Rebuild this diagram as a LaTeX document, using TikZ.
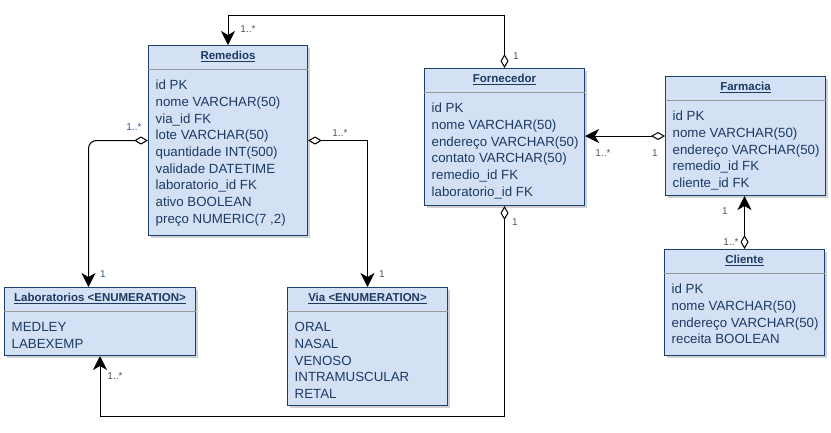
\documentclass[tikz,border=0pt]{standalone}
\usepackage{fontspec}
\setmainfont{Liberation Sans}
\usetikzlibrary{arrows.meta,shadows}
\definecolor{boxfill}{HTML}{D4E1F5}
\definecolor{boxline}{HTML}{1C3F6E}
\definecolor{boxtext}{HTML}{1C3A63}
\definecolor{multgray}{HTML}{555555}
\definecolor{multblue}{HTML}{2D5A9A}

\begin{document}
\begin{tikzpicture}[x=1pt, y=-1pt,
  classbox/.style={draw=boxline, line width=1pt, fill=boxfill, anchor=north west, inner sep=0pt,
    drop shadow={shadow xshift=2pt, shadow yshift=-2pt, fill=black, opacity=0.18}},
  sepline/.style={draw=black!40, line width=1pt},
  titletext/.style={text=boxtext, font=\fontsize{11.5}{13}\selectfont\bfseries, inner sep=0pt},
  rowtext/.style={text=boxtext, font=\fontsize{13.3}{15}\selectfont, anchor=base west, inner sep=0pt},
  assoc/.style={line width=1pt, {Diamond[open,length=14pt,width=8pt]}-{Stealth[length=14pt,width=14pt,inset=4pt]}},
  mult/.style={text=multgray, font=\fontsize{10}{12}\selectfont, inner sep=0pt},
  multb/.style={mult, text=multblue}]
\useasboundingbox (0,0) rectangle (831,432);

% classes
\node[classbox, minimum width=159pt, minimum height=190pt] (rem) at (148,45) {};
\node[classbox, minimum width=160pt, minimum height=137pt] (forn) at (424,68) {};
\node[classbox, minimum width=160pt, minimum height=119pt] (farm) at (665,76) {};
\node[classbox, minimum width=160pt, minimum height=106pt] (cli) at (664,249) {};
\node[classbox, minimum width=191pt, minimum height=68pt] (lab) at (4,287) {};
\node[classbox, minimum width=160pt, minimum height=118pt] (via) at (287,287) {};

% titles and separators
\foreach \c/\t in {rem/Remedios, forn/Fornecedor, farm/Farmacia, cli/Cliente,
                   lab/Laboratorios <ENUMERATION>, via/Via <ENUMERATION>}{
  \node[titletext] (\c-t) at ([yshift=-11.5pt]\c.north) {\underline{\t}};
  \draw[sepline] ([yshift=-24.5pt]\c.north west) -- ([yshift=-24.5pt]\c.north east);
}

% attributes
\foreach [count=\i] \r in {id PK, nome VARCHAR(50), via\_id FK, lote VARCHAR(50), quantidade INT(500),
    validade DATETIME, laboratorio\_id FK, ativo BOOLEAN, {preço NUMERIC(7 ,2)}}
  \node[rowtext] (rem-r\i) at ([xshift=7.5pt, yshift={-44.7pt-(\i-1)*16.7pt}]rem.north west) {\r};
\foreach [count=\i] \r in {id PK, nome VARCHAR(50), endereço VARCHAR(50), contato VARCHAR(50),
    remedio\_id FK, laboratorio\_id FK}
  \node[rowtext] (forn-r\i) at ([xshift=7.5pt, yshift={-44.7pt-(\i-1)*16.7pt}]forn.north west) {\r};
\foreach [count=\i] \r in {id PK, nome VARCHAR(50), endereço VARCHAR(50), remedio\_id FK, cliente\_id FK}
  \node[rowtext] (farm-r\i) at ([xshift=7.5pt, yshift={-44.7pt-(\i-1)*16.7pt}]farm.north west) {\r};
\foreach [count=\i] \r in {id PK, nome VARCHAR(50), endereço VARCHAR(50), receita BOOLEAN}
  \node[rowtext] (cli-r\i) at ([xshift=7.5pt, yshift={-44.7pt-(\i-1)*16.7pt}]cli.north west) {\r};
\foreach [count=\i] \r in {MEDLEY, LABEXEMP}
  \node[rowtext] (lab-r\i) at ([xshift=7.5pt, yshift={-44.7pt-(\i-1)*16.7pt}]lab.north west) {\r};
\foreach [count=\i] \r in {ORAL, NASAL, VENOSO, INTRAMUSCULAR, RETAL}
  \node[rowtext] (via-r\i) at ([xshift=7.5pt, yshift={-44.7pt-(\i-1)*16.7pt}]via.north west) {\r};

% associations
\draw[assoc] (forn.north) -- ++(0,-53) -| (rem.north);
\draw[assoc] (farm.west) -- (forn.east |- farm.west);
\draw[assoc] (cli.north) -- (cli.north |- farm.south);
\draw[assoc, rounded corners=8pt] (rem.west) -| ([xshift=-11.5pt]lab.north);
\draw[assoc] (rem.east) -| (via.north);
\draw[assoc] (forn.south) -- ++(0,210) -| (lab.south);

% multiplicities
\node[mult] (m1) at (248,29) {1..*};
\node[mult] (m2) at (516,56) {1};
\node[mult] (m3) at (603,153) {1..*};
\node[mult] (m4) at (655,153) {1};
\node[mult] (m5) at (725,211) {1};
\node[mult] (m6) at (731,242) {1..*};
\node[multb] (m7) at (134,127) {1..*};
\node[multb] (m8) at (103,274) {1};
\node[mult] (m9) at (340,133) {1..*};
\node[mult] (m10) at (382,274) {1};
\node[mult] (m11) at (515,222) {1};
\node[mult] (m12) at (115,376) {1..*};
\end{tikzpicture}
\end{document}
